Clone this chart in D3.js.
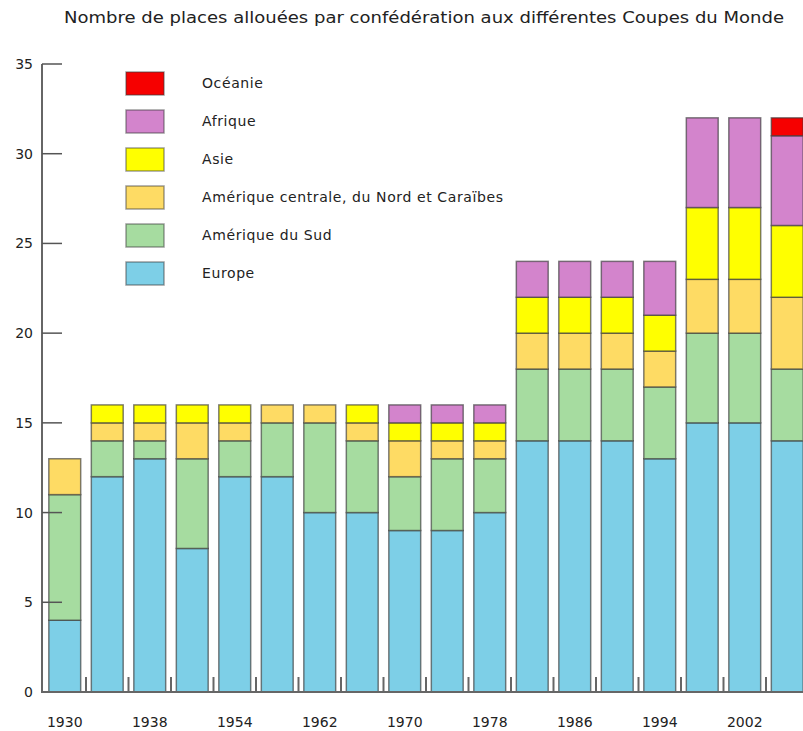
<!DOCTYPE html>
<html>
<head>
<meta charset="utf-8">
<script src="https://cdn.jsdelivr.net/npm/d3@7"></script>
<style>
  body { margin: 0; background: #fff; }
  text { font-family: "DejaVu Sans", sans-serif; fill: #222; }
</style>
</head>
<body>
<svg width="803" height="731"></svg>
<script>
const years = ["1930","1934","1938","1950","1954","1958","1962","1966","1970","1974","1978","1982","1986","1990","1994","1998","2002","2006"]
const yearLabels = ["1930","1938","1954","1962","1970","1978","1986","1994","2002"]
const yTicks = [0, 5, 10, 15, 20, 25, 30, 35]

// stacking order bottom -> top
const confeds = ["Europe", "Amérique du Sud", "Amérique centrale, du Nord et Caraïbes", "Asie", "Afrique", "Océanie"]
const europe  = [4, 12, 13, 8, 12, 12, 10, 10, 9, 9, 10, 14, 14, 14, 13, 15, 15, 14]
const sudAm   = [7, 2, 1, 5, 2, 3, 5, 4, 3, 4, 3, 4, 4, 4, 4, 5, 5, 4]
const concacaf= [2, 1, 1, 2, 1, 1, 1, 1, 2, 1, 1, 2, 2, 2, 2, 3, 3, 4]
const asie    = [0, 1, 1, 1, 1, 0, 0, 1, 1, 1, 1, 2, 2, 2, 2, 4, 4, 4]
const afrique = [0, 0, 0, 0, 0, 0, 0, 0, 1, 1, 1, 2, 2, 2, 3, 5, 5, 5]
const oceanie = [0, 0, 0, 0, 0, 0, 0, 0, 0, 0, 0, 0, 0, 0, 0, 0, 0, 1]
const colors = ["#7dcfe7", "#a6dca0", "#fedb64", "#ffff00", "#d384cc", "#f60000"]

const series = [europe, sudAm, concacaf, asie, afrique, oceanie]
const rows = years.map((y, i) => {
    const r = {year: y}
    confeds.forEach((c, k) => r[c] = series[k][i])
    return r
})

const svg = d3.select("svg")

const x = d3.scaleBand()
    .domain(years)
    .range([43.5, 808.5])
    .paddingInner(0.25)
    .paddingOuter(0.125)

const y = d3.scaleLinear()
    .domain([0, 35])
    .range([692, 64])

const color = d3.scaleOrdinal().domain(confeds).range(colors)

const stacked = d3.stack().keys(confeds)(rows)

// title
svg.append("text")
    .attr("x", 424)
    .attr("y", 23)
    .attr("text-anchor", "middle")
    .attr("font-size", 15)
    .attr("textLength", 720)
    .attr("lengthAdjust", "spacingAndGlyphs")
    .text("Nombre de places allouées par confédération aux différentes Coupes du Monde")

// bars
const layers = svg.append("g").selectAll("g")
    .data(stacked)
    .enter()
    .append("g")
    .attr("fill", d => color(d.key))

layers.selectAll("rect")
    .data(d => d.filter(s => s[1] - s[0] > 0))
    .enter()
    .append("rect")
    .attr("x", d => x(d.data.year))
    .attr("width", x.bandwidth())
    .attr("y", d => y(d[1]))
    .attr("height", d => y(d[0]) - y(d[1]))
    .attr("stroke", "rgba(60,60,60,0.65)")
    .attr("stroke-width", 1.5)

// y axis
const yAxis = svg.append("g")
yAxis.append("line")
    .attr("x1", 42).attr("x2", 42)
    .attr("y1", y(35)).attr("y2", y(0) + 1)
    .attr("stroke", "#666").attr("stroke-width", 2)
yAxis.selectAll(".ytick")
    .data(yTicks)
    .enter()
    .append("line")
    .attr("x1", 42).attr("x2", 62)
    .attr("y1", d => y(d)).attr("y2", d => y(d))
    .attr("stroke", "#555").attr("stroke-width", 1.5)
yAxis.selectAll(".ylab")
    .data(yTicks)
    .enter()
    .append("text")
    .attr("x", 33)
    .attr("y", d => y(d) + 5)
    .attr("text-anchor", "end")
    .attr("font-size", 14)
    .text(d => d)

// x axis
const xAxis = svg.append("g")
xAxis.append("line")
    .attr("x1", 41).attr("x2", 803)
    .attr("y1", y(0)).attr("y2", y(0))
    .attr("stroke", "#666").attr("stroke-width", 2)
xAxis.selectAll(".xtick")
    .data(years.slice(1))
    .enter()
    .append("line")
    .attr("x1", d => x(d) - x.step() * x.paddingOuter())
    .attr("x2", d => x(d) - x.step() * x.paddingOuter())
    .attr("y1", y(0)).attr("y2", y(0) - 15)
    .attr("stroke", "#666").attr("stroke-width", 2)
xAxis.selectAll(".xlab")
    .data(yearLabels)
    .enter()
    .append("text")
    .attr("x", d => x(d) + x.bandwidth() / 2)
    .attr("y", 727)
    .attr("text-anchor", "middle")
    .attr("font-size", 14)
    .text(d => d)

// legend, top entry first
const legendKeys = confeds.slice().reverse()
const legend = svg.append("g").selectAll("g")
    .data(legendKeys)
    .enter()
    .append("g")
    .attr("transform", (d, i) => `translate(126, ${72 + i * 38})`)
legend.append("rect")
    .attr("width", 38)
    .attr("height", 23)
    .attr("fill", d => color(d))
    .attr("stroke", "rgba(60,60,60,0.5)")
    .attr("stroke-width", 1.5)
legend.append("text")
    .attr("x", 76)
    .attr("y", 16)
    .attr("font-size", 14)
    .attr("letter-spacing", 0.6)
    .text(d => d)
</script>
</body>
</html>
